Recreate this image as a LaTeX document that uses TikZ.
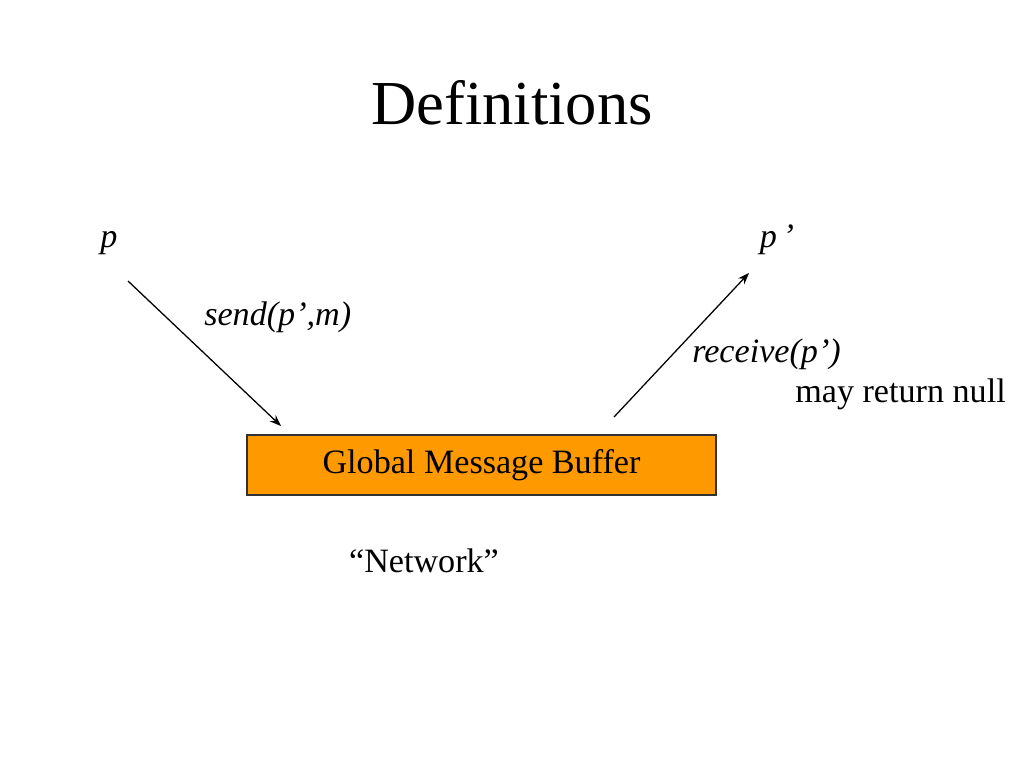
\documentclass[tikz,border=0pt]{standalone}
\usepackage{fontspec}
\setmainfont{Liberation Serif}
\usetikzlibrary{arrows.meta}
\definecolor{boxorange}{HTML}{FF9900}
\definecolor{boxborder}{HTML}{333333}
\tikzset{
  lbl/.style={inner sep=0pt, font=\fontsize{24}{28}\selectfont},
  ilbl/.style={lbl, font=\fontsize{24}{28}\selectfont\itshape},
  conn/.style={draw=black, line width=0.9pt, -{Stealth[length=8pt,width=6pt]}},
  bufbox/.style={draw=boxborder, line width=0.8pt, fill=boxorange, minimum width=469*0.703125pt, minimum height=60*0.703125pt, inner sep=0pt, font=\fontsize{24}{28}\selectfont}
}
\begin{document}
\begin{tikzpicture}[x=0.703125pt, y=-0.703125pt]
\useasboundingbox (0,0) rectangle (1024,768);
\node[inner sep=0pt, font=\fontsize{44}{50}\selectfont] (title) at (512,103) {Definitions};
\node[ilbl, anchor=base] (p) at (109,248) {p};
\node[ilbl, anchor=base] (pp) at (777,248) {p\,’};
\node[bufbox] (buf) at (481.5,465) {Global Message Buffer};
\coordinate (s1) at (128,281);
\coordinate (s2) at (281,426);
\coordinate (r1) at (614,417);
\coordinate (r2) at (749,273);
\draw[conn] (s1) -- (s2);
\draw[conn] (r1) -- (r2);
\node[ilbl, anchor=base west] (send) at (204,326) {send(p’,m)};
\node[ilbl, anchor=base west] (recv) at (692,362) {receive(p’)};
\node[lbl, anchor=base west] (null) at (795,402) {may return null};
\node[lbl, anchor=base] (net) at (424,572) {“Network”};
\end{tikzpicture}
\end{document}
